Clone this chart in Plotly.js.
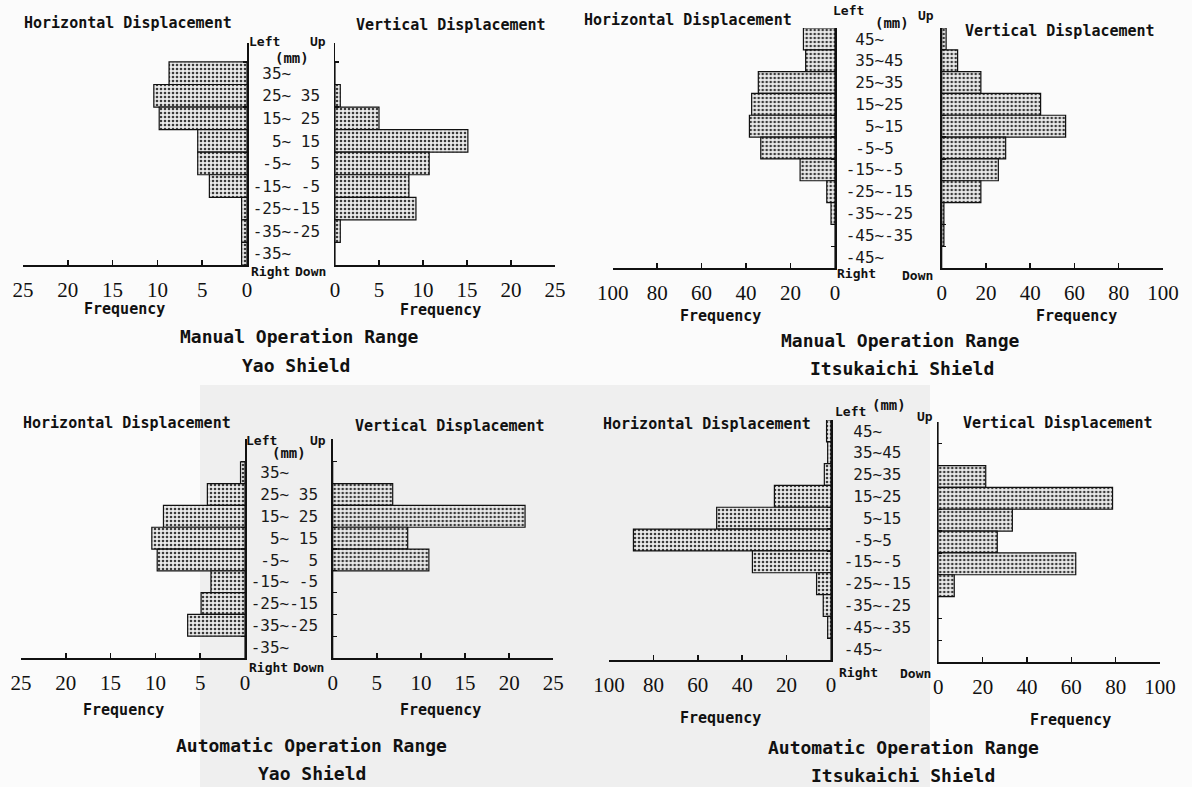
<!DOCTYPE html>
<html>
<head>
<meta charset="utf-8">
<script src="https://cdn.plot.ly/plotly-3.0.1.min.js"></script>
<style>html,body{margin:0;padding:0;background:#fbfbfb;}#chart{width:1192px;height:787px;}</style>
</head>
<body>
<div id="chart"></div>
<script>
// ---- categories (displacement classes, mm) ----
const catsYao = ["35~","25~35","15~25","5~15","-5~5","-15~-5","-25~-15","-35~-25","-35~"];
const catsItsu = ["45~","35~45","25~35","15~25","5~15","-5~5","-15~-5","-25~-15","-35~-25","-45~-35","-45~"];

// ---- frequencies ----
const yaoManualHoriz  = [8.7, 10.4, 9.8, 5.5, 5.5, 4.2, 0.6, 0.6, 0.6];
const yaoManualVert   = [0, 0.6, 5.0, 15.1, 10.7, 8.4, 9.2, 0.6, 0];
const itsuManualHoriz = [14.2, 13.2, 34.5, 37.5, 38.5, 33.4, 15.7, 3.7, 1.8, 0, 0];
const itsuManualVert  = [2.0, 7.2, 17.7, 44.7, 56.0, 28.9, 25.6, 17.7, 1.0, 1.0, 0];
const yaoAutoHoriz    = [0.5, 4.2, 9.1, 10.4, 9.8, 3.8, 4.9, 6.4, 0];
const yaoAutoVert     = [0, 6.8, 21.8, 8.5, 10.9, 0, 0, 0, 0];
const itsuAutoHoriz   = [2.0, 1.5, 3.0, 25.5, 51.5, 89.0, 35.4, 6.5, 3.5, 1.5, 0];
const itsuAutoVert    = [0, 0, 21.4, 78.6, 33.4, 26.6, 62.0, 7.2, 0, 0, 0];

// ---- text ----
const captions = {
  manual: "Manual Operation Range", auto: "Automatic Operation Range",
  yao: "Yao Shield", itsu: "Itsukaichi Shield"
};

const W = 1192, H = 787;
const NB = "\u00a0";
const MONO = "DejaVu Sans Mono, Liberation Mono, monospace";
const SERIF = "Liberation Serif, Times New Roman, serif";

// label formatter: pad the lower bound to 3 columns (and optionally the upper bound)
function fmt(c, padRight) {
  const p = c.split("~");
  let a = p[0], b = p[1];
  while (a.length < 3) a = NB + a;
  if (padRight && b.length) { while (b.length < 3) b = NB + b; }
  return a + "~" + b;
}
const labYao = catsYao.map(c => fmt(c, true));
const labItsu = catsItsu.map(c => fmt(c, false));

const px = v => v / W;
const py = v => 1 - v / H;

const barMarker = {
  color: "#e4e4e4",
  line: { color: "#111", width: 1.2 },
  pattern: { shape: ".", fgcolor: "#3a3a3a", bgcolor: "#ebebeb", size: 4, solidity: 0.33 }
};

function bar(vals, labs, xa, ya) {
  return { type: "bar", orientation: "h", x: vals, y: labs, xaxis: xa, yaxis: ya,
           marker: barMarker, hoverinfo: "x+y" };
}

const data = [
  bar(yaoManualHoriz, labYao, "x", "y"),
  bar(yaoManualVert, labYao, "x2", "y2"),
  bar(itsuManualHoriz, labItsu, "x3", "y3"),
  bar(itsuManualVert, labItsu, "x4", "y4"),
  bar(yaoAutoHoriz, labYao, "x5", "y5"),
  bar(yaoAutoVert, labYao, "x6", "y6"),
  bar(itsuAutoHoriz, labItsu, "x7", "y7"),
  bar(itsuAutoVert, labItsu, "x8", "y8")
];

function xAx(x0, x1, range, dtick, anchor) {
  return {
    domain: [px(x0), px(x1)], range: range, anchor: anchor, fixedrange: true,
    showline: true, linecolor: "#111", linewidth: 1.5,
    ticks: "inside", ticklen: 5, tickwidth: 1.5, tickcolor: "#111",
    tickmode: "linear", tick0: 0, dtick: dtick,
    showgrid: false, zeroline: false, automargin: false,
    tickfont: { family: SERIF, size: 21, color: "#111" }, ticklabelstandoff: 5
  };
}
function yAx(top, bottom, n, header, anchor, side, labs, showLabels, fsize, standoff) {
  return {
    domain: [py(bottom), py(top)], anchor: anchor, side: side, fixedrange: true,
    type: "category", categoryorder: "array", categoryarray: labs,
    range: [n - 0.5, -0.5 - header],
    showline: true, linecolor: "#111", linewidth: 1.5,
    ticks: "inside", ticklen: 4, tickwidth: 1.2, tickcolor: "#111", tickson: "boundaries",
    tickmode: "linear", tick0: 0, dtick: 1,
    showgrid: false, zeroline: false, automargin: false,
    showticklabels: showLabels,
    tickfont: { family: MONO, size: fsize, color: "#1a1a1a" },
    ticklabelstandoff: standoff || 0
  };
}

function ann(text, x, y, size, bold) {
  return { text: bold === false ? text : "<b>" + text + "</b>", x: px(x), y: py(y),
           xref: "paper", yref: "paper", showarrow: false,
           xanchor: "center", yanchor: "middle",
           font: { family: MONO, size: size, color: "#111" } };
}

const annotations = [
  // panel 1
  ann("Horizontal Displacement", 128, 23, 15), ann("Vertical Displacement", 451, 25, 15),
  ann("Left", 264, 41, 13), ann("Up", 318, 41, 13), ann("(mm)", 292, 58, 14),
  ann("Right", 270, 271, 13), ann("Down", 310, 271, 13),
  ann("Frequency", 124, 309, 15), ann("Frequency", 440, 310, 15),
  ann(captions.manual, 299, 337, 18), ann(captions.yao, 296, 365, 18),
  // panel 2
  ann("Horizontal Displacement", 688, 20, 15), ann("Vertical Displacement", 1060, 31, 15),
  ann("Left", 848, 11, 13), ann("(mm)", 892, 23, 14), ann("Up", 926, 16, 13),
  ann("Right", 856, 274, 13), ann("Down", 917, 275, 13),
  ann("Frequency", 720, 316, 15), ann("Frequency", 1076, 316, 15),
  ann(captions.manual, 900, 340, 18), ann(captions.itsu, 902, 368, 18),
  // panel 3
  ann("Horizontal Displacement", 127, 423, 15), ann("Vertical Displacement", 450, 426, 15),
  ann("Left", 261, 441, 13), ann("Up", 318, 441, 13), ann("(mm)", 289, 453, 14),
  ann("Right", 268, 667, 13), ann("Down", 308, 667, 13),
  ann("Frequency", 123, 710, 15), ann("Frequency", 440, 710, 15),
  ann(captions.auto, 311, 745, 18), ann(captions.yao, 312, 773, 18),
  // panel 4
  ann("Horizontal Displacement", 707, 424, 15), ann("Vertical Displacement", 1058, 423, 15),
  ann("Left", 850, 411, 13), ann("(mm)", 889, 405, 14), ann("Up", 925, 416, 13),
  ann("Right", 858, 672, 13), ann("Down", 915, 673, 13),
  ann("Frequency", 720, 718, 15), ann("Frequency", 1070, 720, 15),
  ann(captions.auto, 903, 747, 18), ann(captions.itsu, 903, 775, 18)
];

const layout = {
  width: W, height: H, margin: { l: 0, r: 0, t: 0, b: 0 },
  paper_bgcolor: "#fbfbfb", plot_bgcolor: "rgba(0,0,0,0)",
  showlegend: false, bargap: 0,
  // panel 1 : manual, Yao
  xaxis:  xAx(23, 247, [25, 0], 5, "y"),
  xaxis2: xAx(335, 555, [0, 25], 5, "y2"),
  yaxis:  yAx(43, 265, 9, 0.84, "x", "right", labYao, true, 16, 1),
  yaxis2: yAx(43, 265, 9, 0.84, "x2", "left", labYao, false, 16),
  // panel 2 : manual, Itsukaichi
  xaxis3: xAx(612.7, 835, [100, 0], 20, "y3"),
  xaxis4: xAx(941.7, 1163, [0, 100], 20, "y4"),
  yaxis3: yAx(28, 268, 11, 0, "x3", "right", labItsu, true, 16, 6),
  yaxis4: yAx(28, 268, 11, 0, "x4", "left", labItsu, false, 16),
  // panel 3 : automatic, Yao
  xaxis5: xAx(21, 245, [25, 0], 5, "y5"),
  xaxis6: xAx(332.7, 553.3, [0, 25], 5, "y6"),
  yaxis5: yAx(439, 658, 9, 1.05, "x5", "right", labYao, true, 16, 1),
  yaxis6: yAx(439, 658, 9, 1.05, "x6", "left", labYao, false, 16),
  // panel 4 : automatic, Itsukaichi
  xaxis7: xAx(609, 831, [100, 0], 20, "y7"),
  xaxis8: xAx(938.3, 1160, [0, 100], 20, "y8"),
  yaxis7: yAx(420, 660, 11, 0, "x7", "right", labItsu, true, 16, 8),
  yaxis8: yAx(422, 662, 11, 0, "x8", "left", labItsu, false, 16),
  annotations: annotations,
  shapes: [
    { type: "rect", xref: "paper", yref: "paper", x0: px(200), x1: px(930), y0: 0, y1: py(385),
      fillcolor: "#efefef", line: { width: 0 }, layer: "below" }
  ]
};

Plotly.newPlot("chart", data, layout, { staticPlot: true, displayModeBar: false });
</script>
</body>
</html>
